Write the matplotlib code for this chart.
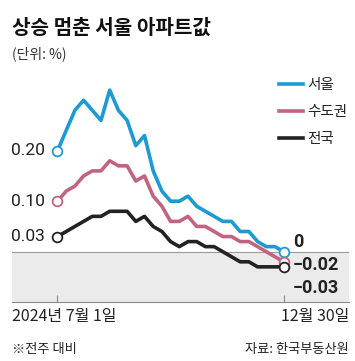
import matplotlib
matplotlib.use("Agg")
import matplotlib.pyplot as plt

plt.rcParams['font.family'] = ['Noto Sans CJK KR', 'DejaVu Sans']

# weekly change, 2024-07-01 .. 2024-12-30 (27 weeks)
weeks = list(range(27))
seoul = [0.20, 0.24, 0.28, 0.30, 0.28, 0.26, 0.32, 0.28, 0.26, 0.21, 0.23, 0.16, 0.12, 0.10,
         0.10, 0.11, 0.09, 0.08, 0.07, 0.06, 0.06, 0.04, 0.04, 0.02, 0.01, 0.01, 0.00]
capital = [0.10, 0.12, 0.13, 0.15, 0.16, 0.16, 0.18, 0.17, 0.17, 0.14, 0.15, 0.11, 0.09, 0.06,
           0.06, 0.07, 0.05, 0.05, 0.04, 0.03, 0.03, 0.02, 0.02, 0.01, 0.00, -0.01, -0.02]
nation = [0.03, 0.04, 0.05, 0.06, 0.07, 0.07, 0.08, 0.08, 0.08, 0.06, 0.07, 0.05, 0.04, 0.02,
          0.01, 0.02, 0.02, 0.01, 0.01, 0.00, -0.01, -0.02, -0.02, -0.03, -0.03, -0.03, -0.03]

names = ['서울', '수도권', '전국']
colors = ['#1e9ad2', '#c2647f', '#222222']
start_labels = ['0.20', '0.10', '0.03']
end_labels = ['0', '−0.02', '−0.03']
end_offsets = [7.2, -2.0, -15.5]   # vertical offset in points for end labels
x_labels = ['2024년 7월 1일', '12월 30일']

W, H = 355, 361
fig = plt.figure(figsize=(W / 100, H / 100), dpi=100)

# axes placed by pixel: left 12, right 349, top 60, bottom 302
ax = fig.add_axes([12 / W, 1 - 302 / H, (349 - 12) / W, (302 - 60) / H])
step = (283.7 - 57.5) / 26
ax.set_xlim(-(57.5 - 12) / step, 26 + (349 - 283.7) / step)
ymin, ymax = -(302 - 251.7) / 505, (251.7 - 60) / 505
ax.set_ylim(ymin, ymax)

ax.axhspan(ymin, 0, color='#ebebeb', zorder=0, lw=0)
ax.axhline(0, color='#9a9a9a', lw=0.8, zorder=1)

for s in ['top', 'left', 'right']:
    ax.spines[s].set_visible(False)
ax.spines['bottom'].set_color('#8a8a8a')
ax.spines['bottom'].set_linewidth(0.8)
ax.set_yticks([])
ax.set_xticks([weeks[0], weeks[-1]])
ax.tick_params(axis='x', direction='in', length=5, width=0.8, color='#8a8a8a', labelbottom=False)

all_series = [seoul, capital, nation]
for ys, c, nm in zip(all_series, colors, names):
    ax.plot(weeks, ys, color=c, lw=2.6, label=nm, zorder=3)
for ys, c in zip(all_series, colors):
    ax.plot([weeks[0], weeks[-1]], [ys[0], ys[-1]], 'o', ms=7, mfc='white', mec=c, mew=1.3, zorder=4)

for ys, lbl in zip(all_series, start_labels):
    ax.annotate(lbl, xy=(weeks[0], ys[0]), xytext=(-9, 0), textcoords='offset points',
                ha='right', va='center', fontsize=12.5, family=['Roboto'], color='#222222')
for ys, lbl, dy in zip(all_series, end_labels, end_offsets):
    ax.annotate(lbl, xy=(weeks[-1], ys[-1]), xytext=(6.5, dy), textcoords='offset points',
                ha='left', va='center', fontsize=13, family=['Roboto'], fontweight='bold',
                color='#222222')

ax.text(0, -0.06, x_labels[0], transform=ax.transAxes, ha='left', va='center',
        fontsize=11.5, color='#222222')
ax.text(1, -0.06, x_labels[1], transform=ax.transAxes, ha='right', va='center',
        fontsize=11.5, color='#222222')

leg = ax.legend(loc='upper left', bbox_to_anchor=(279 / W, 1 - 78 / H),
                bbox_transform=fig.transFigure, frameon=False, fontsize=10.5,
                handlelength=1.65, handletextpad=0.3, labelspacing=0.9, borderpad=0,
                borderaxespad=0)
for t in leg.get_texts():
    t.set_color('#222222')

fig.text(12 / W, 1 - 27 / H, '상승 멈춘 서울 아파트값', ha='left', va='center',
         fontsize=14.5, fontweight='bold', color='#111111')
fig.text(12 / W, 1 - 54 / H, '(단위: %)', ha='left', va='center', fontsize=10, color='#333333')
fig.text(12 / W, 1 - 350 / H, '※전주 대비', ha='left', va='center', fontsize=9.5, color='#222222')
fig.text(349 / W, 1 - 350 / H, '자료: 한국부동산원', ha='right', va='center', fontsize=9.5,
         color='#222222')

fig.savefig('out.png', dpi=100)
